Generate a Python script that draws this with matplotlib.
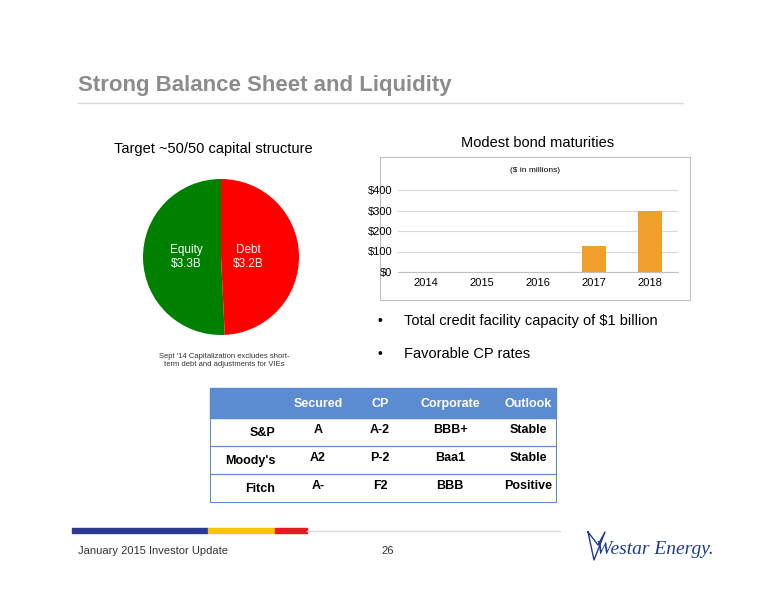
import matplotlib
matplotlib.use("Agg")
import matplotlib.pyplot as plt
from matplotlib.patches import Rectangle

pie_labels = ["Equity\n$3.3B", "Debt\n$3.2B"]
pie_values = [3.3, 3.2]
years = ["2014", "2015", "2016", "2017", "2018"]
maturities = [0, 0, 0, 125, 300]
bar_ticks = [0, 100, 200, 300, 400]
col_headers = ["Secured", "CP", "Corporate", "Outlook"]
row_labels = ["S&P", "Moody's", "Fitch"]
ratings = [["A", "A-2", "BBB+", "Stable"],
           ["A2", "P-2", "Baa1", "Stable"],
           ["A-", "F2", "BBB", "Positive"]]

W, H = 776, 600
fig = plt.figure(figsize=(W/100, H/100), dpi=100)
bg = fig.add_axes([0, 0, 1, 1])
bg.set_xlim(0, W); bg.set_ylim(H, 0); bg.axis("off")

def ax_px(x0, y0, x1, y1):
    return fig.add_axes([x0/W, 1-y1/H, (x1-x0)/W, (y1-y0)/H])

F = "Liberation Sans"
bg.text(78, 85, "Strong Balance Sheet and Liquidity", fontsize=16, fontweight="bold",
        color="#8C8C8C", family=F, va="center")
bg.plot([78, 683], [103, 103], color="#D9D9D9", lw=1)

bg.text(213, 149, "Target ~50/50 capital structure", fontsize=10.5, family=F, ha="center", va="center")
bg.text(538, 143, "Modest bond maturities", fontsize=10.5, family=F, ha="center", va="center")
bg.text(224, 360, "Sept '14 Capitalization excludes short-\nterm debt and adjustments for VIEs",
        fontsize=5.5, family=F, ha="center", va="center", color="#333333")

# pie
pax = ax_px(143, 179, 299, 335)
pax.pie(pie_values, colors=["#008000", "#FF0000"], startangle=90, counterclock=True)
pax.set_xlim(-1, 1); pax.set_ylim(-1, 1)
pax.set_aspect("equal")
pax.text(-0.45, 0, pie_labels[0], color="white", fontsize=8.5, family=F, ha="center", va="center")
pax.text(0.35, 0, pie_labels[1], color="white", fontsize=8.5, family=F, ha="center", va="center")

# bar chart box
bg.add_patch(Rectangle((380, 157), 310, 143, fill=False, ec="#BFBFBF", lw=0.8))
bg.text(535, 171, "($ in millions)", fontsize=6, family=F, ha="center", va="center")
bax = ax_px(398, 190, 678, 272)
bax.bar(range(len(years)), maturities, width=0.42, color="#F0A02A", zorder=3)
bax.set_ylim(0, 400); bax.set_xlim(-0.5, 4.5)
bax.set_yticks(bar_ticks); bax.set_yticklabels([f"\\${v}" for v in bar_ticks], fontsize=8, family=F)
bax.set_xticks(range(len(years))); bax.set_xticklabels(years, fontsize=8, family=F)
bax.grid(axis="y", color="#D9D9D9", lw=0.8, zorder=0)
for s in ["top", "right", "left"]:
    bax.spines[s].set_visible(False)
bax.spines["bottom"].set_color("#BFBFBF")
bax.tick_params(length=0, pad=4)

for y, t in [(321, "Total credit facility capacity of $1 billion"), (354, "Favorable CP rates")]:
    bg.text(378, y, "•", fontsize=10, family=F, va="center")
    bg.text(404, y, t, fontsize=10.5, family=F, va="center")

# table
bg.add_patch(Rectangle((210, 388), 346, 30, color="#5B8BD0"))
colx = [318, 380, 450, 528]
for x, h in zip(colx, col_headers):
    bg.text(x, 404, h, color="white", fontsize=9, fontweight="bold", family=F, ha="center", va="center")
for i, (rl, row) in enumerate(zip(row_labels, ratings)):
    y0 = 418 + 28*i
    bg.add_patch(Rectangle((210, y0), 346, 28, fill=False, ec="#5B8BD0", lw=0.8))
    bg.text(275, y0+15, rl, fontsize=9, fontweight="bold", family=F, ha="right", va="center")
    for x, v in zip(colx, row):
        bg.text(x, y0+12, v, fontsize=9, fontweight="bold", family=F, ha="center", va="center")

# bottom stripe
for x0, x1, c in [(72, 208, "#2B3990"), (208, 275, "#F7C600"), (275, 307, "#E31B23")]:
    bg.add_patch(Rectangle((x0, 528), x1-x0, 5, color=c))
bg.plot([307, 560], [531, 531], color="#D9D9D9", lw=1)
bg.text(78, 551, "January 2015 Investor Update", fontsize=8, family=F, va="center", color="#333333")
bg.text(388, 551, "26", fontsize=8, family=F, va="center", ha="center", color="#333333")
bg.text(596, 550, "Westar Energy.", fontsize=14, family="Liberation Serif", style="italic",
        color="#1F3A93", va="center")
bg.plot([588, 598, 605, 594, 588], [532, 545, 532, 560, 532], color="#1F3A93", lw=1)

fig.savefig("out.png", dpi=100)
